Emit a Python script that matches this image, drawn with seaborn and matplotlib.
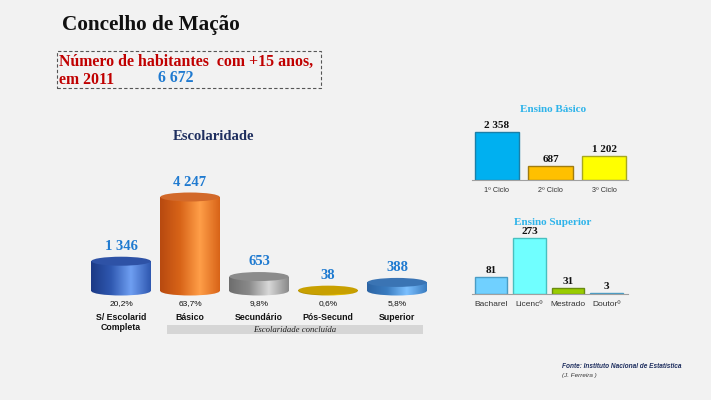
import numpy as np
import pandas as pd
import matplotlib
matplotlib.use("Agg")
import matplotlib.pyplot as plt
import seaborn as sns
from matplotlib.patches import Ellipse, Rectangle
from matplotlib.colors import LinearSegmentedColormap

# dados
esc_cat = ["S/ Escolarid\nCompleta", "Básico", "Secundário", "Pós-Secund", "Superior"]
esc_val = [1346, 4247, 653, 38, 388]
esc_lbl = ["1 346", "4 247", "653", "38", "388"]
esc_pct = ["20,2%", "63,7%", "9,8%", "0,6%", "5,8%"]

bas_cat = ["1º Ciclo", "2º Ciclo", "3º Ciclo"]
bas_val = [2358, 687, 1202]
bas_lbl = ["2 358", "687", "1 202"]

sup_cat = ["Bacharel", "Licencº", "Mestrado", "Doutorº"]
sup_val = [81, 273, 31, 3]
sup_lbl = ["81", "273", "31", "3"]

total_lbl = "6 672"

# cores
esc_grad = [("#1c3a86", "#6f9ff2", "#2f58b0"),
            ("#b84a10", "#ff9e48", "#d86418"),
            ("#6e6e6e", "#d8d8d8", "#8a8a8a"),
            ("#b08c00", "#f0c800", "#b89400"),
            ("#2c64a4", "#7cc0ff", "#3a7cc0")]
esc_top = ["#2e52a6", "#d2692a", "#8c8c8c", "#c8a000", "#3a74b4"]
bas_col = ["#00b0f0", "#ffc000", "#ffff00"]
bas_edge = ["#1a7fa8", "#a07c10", "#a8a820"]
sup_col = ["#70d0ff", "#70ffff", "#99cc00", "#70c8f0"]
sup_edge = ["#4a9cc4", "#48c0c0", "#6a8c10", "#4a9cc4"]

W, H = 711, 400
bg = "#f2f2f2"
serif = ["Liberation Serif", "DejaVu Serif"]
sans = ["Liberation Sans", "DejaVu Sans"]

sns.set_style("white")
fig = plt.figure(figsize=(W / 100, H / 100), dpi=100, facecolor=bg)


def px_axes(l, t, r, b):
    return fig.add_axes([l / W, 1 - b / H, (r - l) / W, (b - t) / H])


# titulo
fig.text(62 / W, 1 - 25 / H, "Concelho de Mação", fontsize=15.3, fontweight="bold",
         family=serif, va="center", ha="left", color="#111111")
fig.patches.append(Rectangle((57 / W, 1 - 88 / H), 264 / W, 37 / H, transform=fig.transFigure,
                             fill=False, ls=(0, (3, 2)), lw=0.8, ec="#555555"))
fig.text(59 / W, 1 - 62 / H, "Número de habitantes  com +15 anos,", fontsize=11.4,
         fontweight="bold", family=serif, color="#c00000", va="center")
fig.text(59 / W, 1 - 80 / H, "em 2011", fontsize=11.4, fontweight="bold", family=serif,
         color="#c00000", va="center")
fig.text(158 / W, 1 - 78 / H, total_lbl, fontsize=11.4, fontweight="bold", family=serif,
         color="#1f7ad0", va="center")

# grafico principal (cilindros)
base_px = 291
s = 4247 / 94
ax = px_axes(79.6, 150, 438.4, 345)
df = pd.DataFrame({"cat": esc_cat, "val": esc_val})
sns.barplot(data=df, x="cat", y="val", ax=ax, width=0.86, color="white")
eh = 9 * s
for i, p in enumerate(ax.patches):
    x, w, h = p.get_x(), p.get_width(), p.get_height()
    p.set_facecolor("none")
    p.set_edgecolor("none")
    cm = LinearSegmentedColormap.from_list("c", [esc_grad[i][0], esc_grad[i][2],
                                                 esc_grad[i][1], esc_grad[i][2]])
    grad = np.linspace(0, 1, 100).reshape(1, -1)
    im = ax.imshow(grad, extent=[x, x + w, -eh, h], cmap=cm, aspect="auto", zorder=2)
    im.set_clip_path(p)
    bot = Ellipse((x + w / 2, 0), w, eh, fc="none", ec="none")
    ax.add_patch(bot)
    im2 = ax.imshow(grad, extent=[x, x + w, -eh, h], cmap=cm, aspect="auto", zorder=2)
    im2.set_clip_path(bot)
    ax.add_patch(Ellipse((x + w / 2, h), w, eh, fc=esc_top[i], ec="none", zorder=3))
    ax.text(x + w / 2, h + 15 * s, esc_lbl[i], ha="center", va="center", fontsize=10.5,
            fontweight="bold", family=serif, color="#1f7ad0")
    ax.text(x + w / 2, -13 * s, esc_pct[i], ha="center", va="center", fontsize=6,
            family=sans, color="#111111")
    ax.text(x + w / 2, -22.5 * s, esc_cat[i], ha="center", va="top", fontsize=6.3,
            fontweight="bold", family=sans, color="#111111", linespacing=1.1)
ax.add_patch(Rectangle((0.66, -43 * s), 3.72, 9 * s, fc="#d6d6d6", ec="none", zorder=1))
ax.text(2.52, -38.5 * s, "Escolaridade concluída", ha="center", va="center", fontsize=6.3,
        style="italic", family=serif, color="#222222")
ax.set_xlim(-0.6, 4.6)
ax.set_ylim(-(345 - base_px) * s, (base_px - 150) * s)
ax.axis("off")
fig.text(213 / W, 1 - 137 / H, "Escolaridade", fontsize=10.5, fontweight="bold",
         family=serif, color="#1f2f5f", ha="center", va="center")


def small_panel(ax, cats, vals, lbls, cols, edges, width, scale, base_px, top_px, fs):
    d = pd.DataFrame({"cat": cats, "val": vals})
    sns.barplot(data=d, x="cat", y="val", hue="cat", palette=cols, ax=ax, width=width,
                legend=False, saturation=1)
    for i, p in enumerate(ax.patches[:len(vals)]):
        p.set_edgecolor(edges[i])
        p.set_linewidth(1.0)
        ax.text(p.get_x() + p.get_width() / 2, p.get_height() + 2 * scale, lbls[i],
                ha="center", va="bottom", fontsize=8, fontweight="bold", family=serif,
                color="#111111")
    ax.set_ylim(0, (base_px - top_px) * scale)
    ax.set_facecolor("none")
    for sp in ["top", "right", "left"]:
        ax.spines[sp].set_visible(False)
    ax.spines["bottom"].set_color("#a0a0a0")
    ax.set_yticks([])
    ax.set_xlabel("")
    ax.set_ylabel("")
    ax.tick_params(axis="x", which="major", length=0, pad=5, labelsize=fs, labelcolor="#333333")
    ax.set_xticks(np.arange(-0.5, len(vals), 1), minor=True)
    ax.tick_params(axis="x", which="minor", length=3, color="#a0a0a0")
    for t in ax.get_xticklabels():
        t.set_family(sans)


# Ensino Basico
s2 = 2358 / 48
ax2 = px_axes(472, 115, 628, 180)
small_panel(ax2, bas_cat, bas_val, bas_lbl, bas_col, bas_edge, 0.82, s2, 180, 115, 5.2)
ax2.set_xlim(-0.46, 2.44)
fig.text(553 / W, 1 - 110 / H, "Ensino Básico", fontsize=8, fontweight="bold",
         family=serif, color="#2fb4ea", ha="center", va="center")

# Ensino Superior
s3 = 273 / 56
ax3 = px_axes(472, 228, 628, 294)
small_panel(ax3, sup_cat, sup_val, sup_lbl, sup_col, sup_edge, 0.85, s3, 294, 228, 6)
ax3.set_xlim(-0.49, 3.56)
fig.text(553 / W, 1 - 222 / H, "Ensino Superior", fontsize=8, fontweight="bold",
         family=serif, color="#2fb4ea", ha="center", va="center")

# fonte
fig.text(562 / W, 1 - 366 / H, "Fonte: Instituto Nacional de Estatística", fontsize=4.7,
         fontweight="bold", style="italic", family=sans, color="#1f2f5f", va="center")
fig.text(562 / W, 1 - 375 / H, "(J. Ferreira )", fontsize=4.5, style="italic",
         family=sans, color="#333333", va="center")

fig.savefig("out.png", dpi=100, facecolor=bg)
